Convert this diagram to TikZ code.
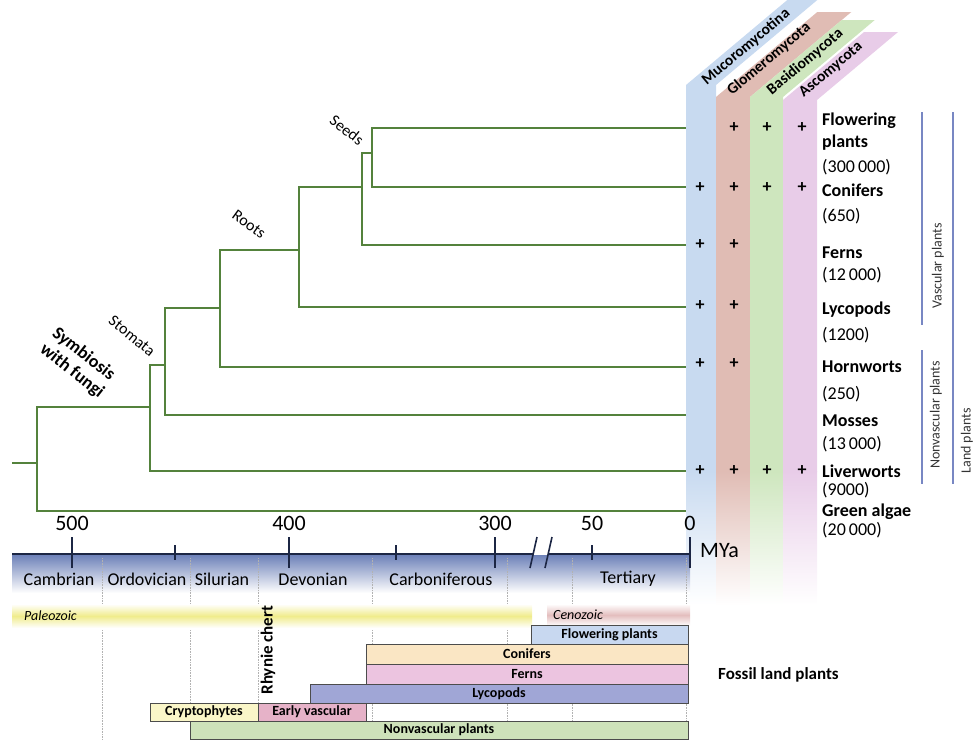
\documentclass[tikz,border=0pt]{standalone}
\usepackage{fontspec}
\setmainfont{Carlito}
\usetikzlibrary{calc}

\definecolor{cladegreen}{RGB}{84,130,60}
\definecolor{mucoro}{RGB}{200,218,240}
\definecolor{glomero}{RGB}{224,188,180}
\definecolor{basidio}{RGB}{206,230,190}
\definecolor{asco}{RGB}{232,204,232}
\definecolor{axisnavy}{RGB}{28,38,68}
\definecolor{axisband}{RGB}{110,130,185}
\definecolor{paleo}{RGB}{240,236,140}
\definecolor{ceno}{RGB}{228,190,190}
\definecolor{barflow}{RGB}{200,216,240}
\definecolor{barconi}{RGB}{250,230,196}
\definecolor{barfern}{RGB}{236,196,224}
\definecolor{barlyco}{RGB}{160,166,214}
\definecolor{barcrypt}{RGB}{250,246,200}
\definecolor{barearly}{RGB}{230,178,200}
\definecolor{barnonv}{RGB}{206,226,186}
\definecolor{groupblue}{RGB}{120,135,195}

\begin{document}
\begin{tikzpicture}[x=1pt,y=-1pt,
  branch/.style={draw=cladegreen, line width=2pt},
  trait/.style={font=\fontsize{16}{18}\selectfont, inner sep=0pt},
  taxon/.style={anchor=west, inner sep=0pt, font=\fontsize{18}{20}\selectfont\bfseries},
  count/.style={anchor=west, inner sep=0pt, font=\fontsize{18}{20}\selectfont},
  plus/.style={font=\fontsize{18}{18}\selectfont\bfseries, inner sep=0pt},
  fungus/.style={rotate=40, font=\fontsize{15.5}{15.5}\selectfont\bfseries, inner sep=0pt},
  group/.style={draw=groupblue, line width=2pt},
  grouplab/.style={rotate=90, font=\fontsize{14}{14}\selectfont, text=black!80, inner sep=0pt},
  period/.style={font=\fontsize{18}{18}\selectfont, inner sep=0pt},
  agelab/.style={font=\fontsize{22}{22}\selectfont, inner sep=0pt},
  axisline/.style={draw=axisnavy, line width=2.2pt},
  era/.style={draw=gray!60, densely dotted, line width=0.6pt},
  bar/.style={draw=black!70, line width=0.8pt, font=\fontsize{14}{14}\selectfont\bfseries},
]
\useasboundingbox (0,0) rectangle (978,740);

% fungal columns
\foreach \xl/\w/\yv/\yt/\col in {686/30/85/0/mucoro, 716/34/97/12/glomero, 750/33/97/20/basidio, 783/34/100/32/asco}{
  \fill[\col] (\xl,472) -- (\xl,\yv) -- ({\xl+(\yv-\yt)/0.839},\yt) -- ({\xl+\w+(\yv-\yt)/0.839},\yt) -- (\xl+\w,\yv) -- (\xl+\w,472) -- cycle;
  \shade[top color=\col, bottom color=white] (\xl,471) rectangle (\xl+\w,605);
}
\node[fungus] (muc) at (746,47) {Mucoromycotina};
\node[fungus] (glo) at (769,59) {Glomeromycota};
\node[fungus] (bas) at (805,62) {Basidiomycota};
\node[fungus] (asc) at (831,70) {Ascomycota};

% tree
\coordinate (stub) at (12,463);
\coordinate (r0) at (37,463);
\coordinate (j1) at (150,407);
\coordinate (j2) at (165,365);
\coordinate (j3) at (220,308);
\coordinate (j4) at (299,250);
\coordinate (j5) at (362,187);
\coordinate (j6) at (372,153);
\coordinate (t-flo) at (686,128);
\coordinate (t-con) at (686,187);
\coordinate (t-fer) at (686,245);
\coordinate (t-lyc) at (686,307);
\coordinate (t-hor) at (686,367);
\coordinate (t-mos) at (686,415);
\coordinate (t-liv) at (686,471);
\coordinate (t-alg) at (686,511);

\draw[branch] (stub) -- (r0);
\draw[branch] (r0) |- (j1);  \draw[branch] (r0) |- (t-alg);
\draw[branch] (j1) |- (j2);  \draw[branch] (j1) |- (t-liv);
\draw[branch] (j2) |- (j3);  \draw[branch] (j2) |- (t-mos);
\draw[branch] (j3) |- (j4);  \draw[branch] (j3) |- (t-hor);
\draw[branch] (j4) |- (j5);  \draw[branch] (j4) |- (t-lyc);
\draw[branch] (j5) |- (j6);  \draw[branch] (j5) |- (t-fer);
\draw[branch] (j6) |- (t-flo); \draw[branch] (j6) |- (t-con);

\node[trait, rotate=-38] (seeds) at (347,130) {Seeds};
\node[trait, rotate=-36] (roots) at (249,224) {Roots};
\node[trait, rotate=-39] (stomata) at (132,336) {Stomata};
\node[trait, rotate=-38, align=left, font=\fontsize{18}{20}\selectfont\bfseries] (symb) at (78,363) {Symbiosis\\with fungi};

% presence of fungi
\foreach \y/\cols in {128/{734,767,802}, 188/{700,734,767,802}, 245/{700,734}, 306/{700,734}, 364/{700,734}, 471/{700,734,767,802}}{
  \foreach \x in \cols {\node[plus] (p-\x-\y) at (\x,\y) {+};}
}

% taxa
\node[taxon] (flo) at (822,121) {Flowering};
\node[taxon] (flo2) at (822,143) {plants};
\node[count] (flo-n) at (822,167) {(300\,000)};
\node[taxon] (con) at (822,190) {Conifers};
\node[count] (con-n) at (822,216) {(650)};
\node[taxon] (fer) at (822,253) {Ferns};
\node[count] (fer-n) at (822,275) {(12\,000)};
\node[taxon] (lyc) at (822,310) {Lycopods};
\node[count] (lyc-n) at (822,335) {(1200)};
\node[taxon] (hor) at (822,367) {Hornworts};
\node[count] (hor-n) at (822,394) {(250)};
\node[taxon] (mos) at (822,421) {Mosses};
\node[count] (mos-n) at (822,444) {(13\,000)};
\node[taxon] (liv) at (822,471) {Liverworts};
\node[count] (liv-n) at (822,490) {(9000)};
\node[taxon] (alg) at (822,512) {Green algae};
\node[count] (alg-n) at (822,530) {(20\,000)};

% groups
\draw[group] (922,112) -- (922,325);
\node[grouplab] (vas) at (938,266) {Vascular plants};
\draw[group] (922,350) -- (922,484);
\node[grouplab] (nonvas) at (936,415) {Nonvascular plants};
\draw[group] (953,112) -- (953,484);
\node[grouplab] (land) at (967,441) {Land plants};

% time axis
\shade[top color=axisband, bottom color=white] (12,555) rectangle (690,593);
\foreach \x in {102,190,258,372,507,572,686} \draw[era] (\x,558) -- (\x,740);
\draw[axisline] (12,554) -- (534,554);
\draw[axisline] (549,554) -- (690,554);
\draw[axisline, line width=1.6pt] (530,568) -- (537,537);
\draw[axisline, line width=1.6pt] (545,568) -- (552,537);
\foreach \x/\lab in {72/500, 289/400, 495/300, 690/0}{
  \draw[axisline, line width=1.8pt] (\x,537) -- (\x,568);
  \node[agelab] (age\lab) at (\x,523) {\lab};
}
\foreach \x in {175,396,592} \draw[axisline, line width=1.8pt] (\x,545) -- (\x,560);
\node[agelab] (age50) at (592,523) {50};
\node[agelab, anchor=west] (mya) at (700,551) {MYa};

\node[period] (camb) at (59,579) {Cambrian};
\node[period] (ordo) at (147,579) {Ordovician};
\node[period] (silu) at (222,579) {Silurian};
\node[period] (devo) at (313,579) {Devonian};
\node[period] (carb) at (441,579) {Carboniferous};
\node[period] (tert) at (628,579) {Tertiary};

% eras
\shade[top color=white, bottom color=white, middle color=paleo] (12,604) rectangle (532,628);
\shade[top color=white, bottom color=white, middle color=ceno] (547,604) rectangle (690,626);
\node[font=\fontsize{14}{14}\selectfont\itshape, anchor=west, inner sep=0pt] (paleoz) at (24,616) {Paleozoic};
\node[font=\fontsize{14}{14}\selectfont\itshape, anchor=west, inner sep=0pt] (cenoz) at (553,615) {Cenozoic};

% fossil record
\draw[bar, fill=barflow] (531,625) rectangle node (fflo) {Flowering plants} (688,644);
\draw[bar, fill=barconi] (366,644) rectangle node (fcon) {Conifers} (688,664);
\draw[bar, fill=barfern] (366,664) rectangle node (ffer) {Ferns} (688,684);
\draw[bar, fill=barlyco] (310,684) rectangle node (flyc) {Lycopods} (688,703);
\draw[bar, fill=barcrypt] (150,703) rectangle node (fcry) {Cryptophytes} (258,721);
\draw[bar, fill=barearly] (258,703) rectangle node (fear) {Early vascular} (366,721);
\draw[bar, fill=barnonv] (190,721) rectangle node (fnon) {Nonvascular plants} (688,739);
\node[rotate=90, font=\fontsize{17}{17}\selectfont\bfseries, inner sep=0pt] (rhynie) at (268,650) {Rhynie chert};
\node[anchor=west, font=\fontsize{17}{17}\selectfont\bfseries, inner sep=0pt] (fossil) at (718,675) {Fossil land plants};
\end{tikzpicture}
\end{document}
